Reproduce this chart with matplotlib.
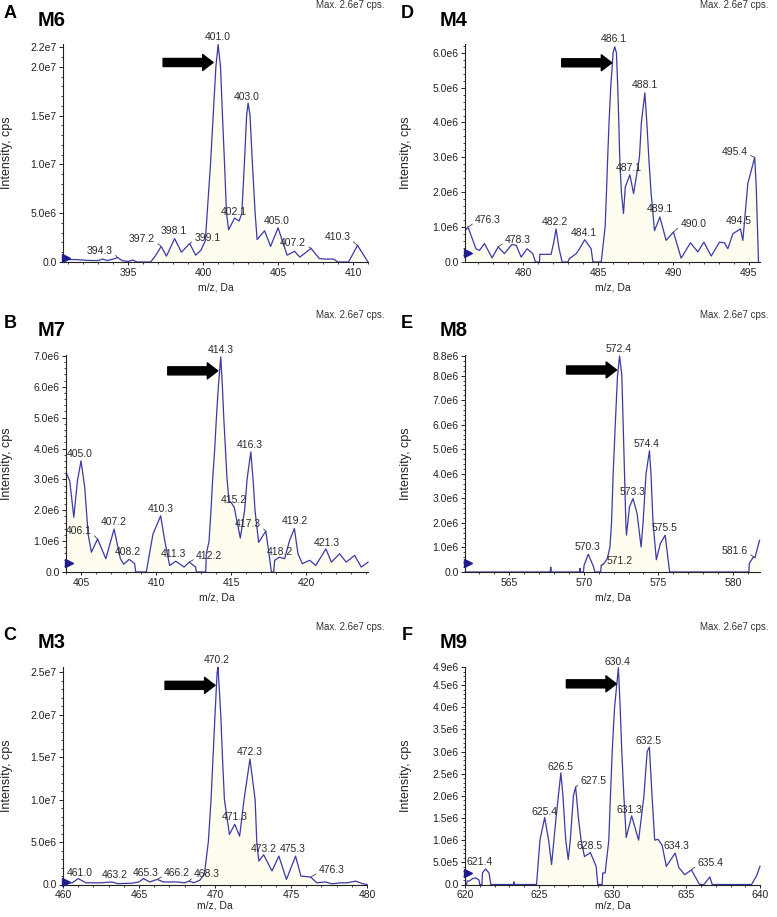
import numpy as np
import matplotlib
matplotlib.use('Agg')
import matplotlib.pyplot as plt
from matplotlib.ticker import FixedLocator, FuncFormatter
from matplotlib.transforms import offset_copy

plt.rcParams['font.family'] = ['Liberation Sans', 'DejaVu Sans']

# Spectra: m/z and intensity (units of 1e6 cps)
m6_mz = [390.7, 391.5, 392.5, 393.0, 393.3, 393.6, 394.0, 394.3, 394.6, 395.0,
         395.3, 395.6, 396.5, 396.8, 397.2, 397.55, 398.1, 398.55, 399.1, 399.5,
         399.85, 400.15, 400.27, 400.49, 400.67, 400.85, 401.0, 401.16, 401.29, 401.43,
         401.56, 401.7, 402.1, 402.4, 402.58, 402.75, 402.9, 403.0, 403.13, 403.29,
         403.47, 403.6, 404.1, 404.5, 405.0, 405.6, 406.1, 406.45, 407.2, 407.75,
         408.2, 408.7, 409.0, 409.7, 410.3, 411.0]
m6_int = [0.25, 0.25, 0.15, 0.15, 0.3, 0.15, 0.3, 0.45, 0.15, 0.05,
          0.2, 0.0, 0.0, 0.6, 1.6, 0.6, 2.4, 1.0, 1.9, 0.7,
          1.2, 2.2, 5.0, 10.0, 15.0, 20.0, 22.3, 20.0, 15.0, 10.0,
          5.0, 3.3, 4.5, 4.2, 5.0, 10.0, 15.0, 16.3, 15.0, 10.0,
          5.0, 2.3, 3.2, 1.6, 3.5, 0.7, 1.1, 0.5, 1.4, 0.35,
          0.3, 0.3, 0.0, 0.0, 1.7, 0.0]
m6_labels = ['394.3', '397.2', '398.1', '399.1', '401.0', '402.1', '403.0', '405.0', '407.2', '410.3']

m4_mz = [476.18, 476.35, 476.88, 477.11, 477.44, 477.95, 478.35, 478.77, 479.26, 479.55,
         479.88, 480.28, 480.65, 480.83, 481.1, 481.12, 481.87, 482.03, 482.2, 482.38,
         482.6, 482.98, 483.09, 483.54, 483.76, 484.1, 484.53, 484.65, 485.2, 485.46,
         485.55, 485.63, 485.72, 485.83, 485.99, 486.1, 486.21, 486.3, 486.37, 486.43,
         486.54, 486.68, 486.8, 487.1, 487.2, 487.35, 487.74, 487.87, 488.1, 488.23,
         488.36, 488.51, 488.74, 489.1, 489.51, 490.0, 490.51, 491.13, 491.62, 492.02,
         492.51, 493.06, 493.39, 493.61, 493.95, 494.45, 494.61, 494.94, 495.4, 495.5,
         495.65]
m4_int = [0.91, 1.0, 0.38, 0.33, 0.53, 0.12, 0.43, 0.24, 0.5, 0.48,
          0.14, 0.38, 0.24, 0.0, 0.0, 0.22, 0.22, 0.53, 0.95, 0.43,
          0.0, 0.0, 0.1, 0.24, 0.38, 0.64, 0.38, 0.0, 0.0, 1.0,
          2.0, 3.0, 4.0, 5.0, 6.0, 6.17, 6.0, 5.0, 4.0, 3.0,
          2.0, 1.39, 2.15, 2.5, 2.3, 1.96, 3.0, 4.0, 4.85, 4.0,
          3.0, 2.0, 0.9, 1.29, 0.62, 0.86, 0.11, 0.55, 0.29, 0.57,
          0.17, 0.57, 0.55, 0.38, 0.81, 0.95, 0.62, 2.25, 3.0, 2.15,
          0.0]
m4_labels = ['476.3', '478.3', '482.2', '484.1', '486.1', '487.1', '488.1', '489.1', '490.0', '494.5', '495.4']

m7_mz = [404.03, 404.25, 404.52, 404.76, 405.0, 405.25, 405.47, 405.69, 406.1, 406.65,
         407.2, 407.62, 407.84, 408.2, 408.57, 408.64, 409.35, 409.4, 409.79, 410.3,
         410.57, 410.9, 411.3, 411.86, 412.2, 412.63, 412.68, 413.3, 413.34, 413.52,
         413.65, 413.76, 413.9, 414.01, 414.14, 414.3, 414.41, 414.5, 414.61, 414.72,
         414.85, 415.0, 415.2, 415.6, 415.89, 416.05, 416.3, 416.45, 416.58, 416.82,
         417.11, 417.3, 417.51, 417.67, 417.82, 417.89, 418.2, 418.55, 418.88, 419.2,
         419.44, 419.73, 420.22, 420.62, 421.3, 421.66, 422.21, 422.65, 423.21, 423.65,
         424.1]
m7_int = [3.2, 2.95, 1.77, 2.95, 3.6, 2.73, 1.23, 0.64, 1.07, 0.43,
          1.39, 0.43, 0.25, 0.41, 0.27, 0.0, 0.0, 0.16, 1.23, 1.82,
          1.02, 0.21, 0.35, 0.16, 0.32, 0.16, 0.0, 0.0, 0.59, 1.0,
          2.0, 3.0, 4.0, 5.0, 6.0, 6.97, 6.0, 5.0, 4.0, 3.0,
          2.3, 2.25, 2.09, 1.1, 2.0, 3.0, 3.89, 3.0, 2.0, 0.96,
          1.18, 1.32, 0.59, 0.0, 0.0, 0.38, 0.48, 0.43, 1.02, 1.41,
          0.59, 0.27, 0.38, 0.21, 0.75, 0.32, 0.59, 0.32, 0.54, 0.16,
          0.32]
m7_labels = ['405.0', '406.1', '407.2', '408.2', '410.3', '411.3', '412.2', '414.3',
             '415.2', '416.3', '417.3', '418.2', '419.2', '421.3']

m8_mz = [562.05, 567.75, 567.79, 567.83, 569.72, 569.75, 569.78, 569.98, 570.02, 570.3,
         570.62, 570.75, 571.13, 571.17, 571.35, 571.57, 571.75, 571.86, 571.97, 572.11,
         572.26, 572.4, 572.55, 572.64, 572.73, 572.82, 572.86, 573.06, 573.3, 573.57,
         573.84, 573.97, 574.17, 574.4, 574.5, 574.64, 574.86, 575.13, 575.45, 575.6,
         575.75, 581.06, 581.08, 581.35, 581.46, 581.77]
m8_int = [0.0, 0.0, 0.2, 0.0, 0.0, 0.15, 0.0, 0.0, 0.27, 0.72,
          0.27, 0.0, 0.0, 0.27, 0.34, 0.54, 1.0, 2.0, 4.0, 6.0,
          8.0, 8.8, 8.0, 6.0, 4.0, 2.0, 1.5, 2.65, 2.99, 2.38,
          1.02, 2.0, 4.0, 4.94, 4.0, 2.0, 0.5, 1.16, 1.5, 0.75,
          0.0, 0.0, 0.34, 0.61, 0.58, 1.29]
m8_labels = ['570.3', '571.2', '572.4', '573.3', '574.4', '575.5', '581.6']

m3_mz = [460.0, 460.6, 461.0, 461.5, 462.5, 463.2, 463.6, 464.5, 465.0, 465.3,
         465.7, 466.2, 466.6, 467.5, 468.0, 468.3, 468.6, 469.0, 469.3, 469.56,
         469.74, 469.87, 470.0, 470.14, 470.2, 470.38, 470.49, 470.62, 470.95, 471.3,
         471.62, 471.91, 472.3, 472.64, 472.75, 472.88, 473.2, 473.75, 474.2, 474.7,
         475.3, 475.65, 476.3, 476.7, 477.25, 477.7, 478.25, 478.7, 479.25, 479.7,
         480.0]
m3_int = [0.15, 0.2, 0.7, 0.2, 0.2, 0.3, 0.1, 0.15, 0.3, 0.7,
          0.3, 0.6, 0.3, 0.3, 0.2, 0.4, 0.2, 0.5, 1.2, 5.0,
          10.0, 15.0, 20.0, 25.0, 25.6, 20.0, 15.0, 10.0, 5.9, 7.1,
          5.7, 10.0, 14.8, 10.0, 5.0, 2.76, 3.5, 1.6, 3.35, 0.6,
          3.35, 1.0, 0.87, 0.2, 0.3, 0.08, 0.2, 0.2, 0.4, 0.1,
          0.0]
m3_labels = ['461.0', '463.2', '465.3', '466.2', '468.3', '470.2', '471.3', '472.3',
             '473.2', '475.3', '476.3']

m9_mz = [620.1, 620.15, 620.3, 620.5, 620.73, 620.95, 621.0, 621.15, 621.18, 621.4,
         621.63, 621.75, 623.3, 623.33, 623.36, 624.85, 625.08, 625.4, 625.67, 625.87,
         626.17, 626.33, 626.5, 626.64, 626.83, 627.0, 627.14, 627.35, 627.5, 627.69,
         627.87, 628.1, 628.5, 628.89, 629.0, 629.3, 629.34, 629.5, 629.75, 629.86,
         629.98, 630.14, 630.4, 630.52, 630.63, 630.77, 630.93, 631.3, 631.77, 632.13,
         632.35, 632.5, 632.68, 632.86, 633.08, 633.36, 633.65, 634.25, 634.5, 634.9,
         635.35, 635.9, 636.2, 636.6, 636.76, 639.43, 639.55, 639.77, 640.0]
m9_int = [0.0, 0.08, 0.08, 0.13, 0.15, 0.1, 0.0, 0.0, 0.26, 0.35,
          0.26, 0.0, 0.0, 0.06, 0.0, 0.0, 1.0, 1.51, 1.0, 0.45,
          1.5, 2.0, 2.52, 2.0, 1.0, 0.56, 1.0, 2.0, 2.2, 1.5,
          1.0, 0.63, 0.72, 0.41, 0.0, 0.0, 0.26, 0.26, 1.0, 2.0,
          3.0, 4.0, 4.89, 4.0, 3.0, 2.0, 1.06, 1.55, 1.0, 2.0,
          3.0, 3.1, 2.0, 1.0, 1.02, 0.89, 0.41, 0.71, 0.38, 0.22,
          0.33, 0.0, 0.0, 0.17, 0.0, 0.0, 0.07, 0.2, 0.41]
m9_labels = ['621.4', '625.4', '626.5', '627.5', '628.5', '630.4', '631.3', '632.5', '634.3', '635.4']

LINE = '#3a3aa8'
FILL = '#fffdf0'
TXT = '#2a2a2a'
W, H = 777, 917

# layout of each panel (pixel box, limits, ticks, label offsets in pixels)
panels = [
    dict(letter='A', name='M6', mz=m6_mz, inten=m6_int, labels=m6_labels,
         box=(63, 44, 368, 262), xlim=(390.65, 411.0), ytop=22.35,
         yticks=[0, 5, 10, 15, 20, 22], yminor=1.0,
         offs=[(-18, 7), (-19, 7), (-1, 8), (18, 5), (0, 7), (-1, 6), (-1, 6), (-1, 7), (-18, 5), (-20, 8)],
         arrow=(-5, -18), marker_y=0.02, head_y=5),
    dict(letter='D', name='M4', mz=m4_mz, inten=m4_int, labels=m4_labels,
         box=(465, 44, 760, 262), xlim=(476.15, 495.75), ytop=6.25,
         yticks=[0, 1, 2, 3, 4, 5, 6], yminor=0.2,
         offs=[(20, 7), (20, 7), (-1, 7), (-1, 7), (-1, 8), (-1, 7), (0, 8), (0, 8), (20, 8), (-2, 8), (-20, 5)],
         arrow=(-3, -16), marker_y=0.04, head_y=5),
    dict(letter='B', name='M7', mz=m7_mz, inten=m7_int, labels=m7_labels,
         box=(66, 355, 368, 572), xlim=(404.0, 424.1), ytop=7.03,
         yticks=[0, 1, 2, 3, 4, 5, 6, 7], yminor=0.2,
         offs=[(-1, 7), (-19, 8), (0, 7), (-1, 7), (0, 7), (-2, 7), (20, 6), (0, 7),
               (0, 7), (-1, 7), (-18, 7), (1, 5), (0, 7), (1, 6)],
         arrow=(-3, -14), marker_y=0.04, head_y=315),
    dict(letter='E', name='M8', mz=m8_mz, inten=m8_int, labels=m8_labels,
         box=(465, 355, 760, 572), xlim=(562.05, 581.8), ytop=8.84,
         yticks=[0, 1, 2, 3, 4, 5, 6, 7, 8, 8.8], yminor=0.2,
         offs=[(-1, 7), (18, 4), (-1, 7), (-1, 7), (-3, 7), (-1, 7), (-20, 7)],
         arrow=(-3, -14), marker_y=0.04, head_y=315),
    dict(letter='C', name='M3', mz=m3_mz, inten=m3_int, labels=m3_labels,
         box=(63, 666.5, 367, 884.5), xlim=(460.0, 480.0), ytop=25.7,
         yticks=[0, 5, 10, 15, 20, 25], yminor=1.0,
         offs=[(2, 6), (3, 7), (2, 6), (20, 6), (18, 7), (-1, 7), (0, 7), (0, 7), (0, 6), (-3, 7), (21, 7)],
         arrow=(-3, -18), marker_y=0.012, head_y=627),
    dict(letter='F', name='M9', mz=m9_mz, inten=m9_int, labels=m9_labels,
         box=(465, 666.5, 760, 884.5), xlim=(620.0, 640.0), ytop=4.92,
         yticks=[0, 0.5, 1, 1.5, 2, 2.5, 3, 3.5, 4, 4.5, 4.9], yminor=0.1,
         offs=[(-6, 7), (0, 6), (0, 6), (18, 6), (-1, 7), (-1, 6), (-2, 6), (-1, 6), (1, 7), (19, 7)],
         arrow=(-2, -16), marker_y=0.055, head_y=627),
]


def sci_label(v, pos=None):
    if abs(v) < 1e-9:
        return '0.0'
    m, e = f'{v:.1e}'.split('e')
    return f'{m}e{int(e)}'


def draw_panel(fig, p):
    left, top, right, bottom = p['box']
    ax = fig.add_axes([left / W, 1 - bottom / H, (right - left) / W, (bottom - top) / H])
    mz = np.array(p['mz'])
    inten = np.array(p['inten']) * 1e6

    ax.fill_between(mz, inten, 0, color=FILL, lw=0, zorder=1)
    ax.plot(mz, inten, color=LINE, lw=0.9, zorder=2, clip_on=False)

    ax.set_xlim(*p['xlim'])
    ax.set_ylim(0, p['ytop'] * 1e6)
    for s in ['top', 'right']:
        ax.spines[s].set_visible(False)
    for s in ['left', 'bottom']:
        ax.spines[s].set_color('#222222')
        ax.spines[s].set_linewidth(0.8)

    ax.yaxis.set_major_locator(FixedLocator([t * 1e6 for t in p['yticks']]))
    ax.yaxis.set_minor_locator(FixedLocator(np.arange(0, p['ytop'], p['yminor']) * 1e6))
    ax.yaxis.set_major_formatter(FuncFormatter(sci_label))
    x0 = int(np.ceil(p['xlim'][0] / 5.0) * 5)
    ax.xaxis.set_major_locator(FixedLocator(np.arange(x0, p['xlim'][1] + 0.01, 5)))
    ax.xaxis.set_minor_locator(FixedLocator(np.arange(np.ceil(p['xlim'][0]), p['xlim'][1] + 0.01, 1)))
    ax.tick_params(axis='y', which='major', direction='out', length=3, width=0.7,
                   pad=1.5, labelsize=7.5, colors='#222222')
    ax.tick_params(axis='y', which='minor', direction='out', length=1.5, width=0.6, colors='#222222')
    ax.tick_params(axis='x', which='major', direction='out', length=2.5, width=0.7,
                   pad=1.5, labelsize=7.5, colors='#222222')
    ax.tick_params(axis='x', which='minor', direction='out', length=1.5, width=0.6, colors='#222222')

    # peak labels, anchored on the nearest point of the spectrum
    for lbl, (dx, dy) in zip(p['labels'], p['offs']):
        i = int(np.argmin(np.abs(mz - float(lbl))))
        arrowprops = None
        if abs(dx) >= 10:
            arrowprops = dict(arrowstyle='-', color='#444444', lw=0.6, shrinkA=0, shrinkB=0,
                              relpos=(1.0, 0.3) if dx < 0 else (0.0, 0.3))
        ax.annotate(lbl, xy=(mz[i], inten[i]), xytext=(dx, dy), textcoords='offset pixels',
                    ha='center', va='center', fontsize=7.5, color=TXT,
                    arrowprops=arrowprops, annotation_clip=False, zorder=4)

    # black arrow pointing to the main peak
    k = int(np.argmax(inten))
    tip = offset_copy(ax.transData, fig=fig, x=p['arrow'][0], y=p['arrow'][1], units='dots')
    ax.annotate('', xy=(mz[k], inten[k]), xycoords=tip, xytext=(-50, 0), textcoords='offset pixels',
                arrowprops=dict(arrowstyle='simple,head_length=0.75,head_width=1.15,tail_width=0.58',
                                mutation_scale=10, fc='black', ec='black', shrinkA=0, shrinkB=0),
                annotation_clip=False, zorder=5)

    # small navy marker on the intensity axis
    ax.plot([3.0 / (right - left)], [p['marker_y']], marker='>', ms=6, color='#1c1c8a',
            transform=ax.transAxes, clip_on=False, zorder=6)

    # texts around the panel
    col_left = left < 300
    fig.text((10 if col_left else 407) / W, 1 - (p['head_y'] + 9) / H, p['letter'],
             fontsize=13, fontweight='bold', ha='center', va='center')
    fig.text((38 if col_left else 440) / W, 1 - (p['head_y'] + 15) / H, p['name'],
             fontsize=14.5, fontweight='bold', ha='left', va='center')
    fig.text((385 if col_left else 769) / W, 1 - p['head_y'] / H, 'Max. 2.6e7 cps.',
             fontsize=7, ha='right', va='center', color='#333333')
    fig.text((7 if col_left else 406) / W, 1 - (top + bottom) / 2 / H, 'Intensity, cps',
             fontsize=9, rotation=90, ha='center', va='center', color='#222222')
    xl_y = bottom + (21 if bottom > 800 else 25)
    fig.text((left + right) / 2 / W, 1 - xl_y / H, 'm/z, Da',
             fontsize=7.5, ha='center', va='center', color='#222222')
    return ax


def main():
    fig = plt.figure(figsize=(W / 100, H / 100), dpi=100)
    fig.patch.set_facecolor('white')
    for p in panels:
        draw_panel(fig, p)
    fig.savefig('out.png', dpi=100, facecolor='white')


if __name__ == '__main__':
    main()
